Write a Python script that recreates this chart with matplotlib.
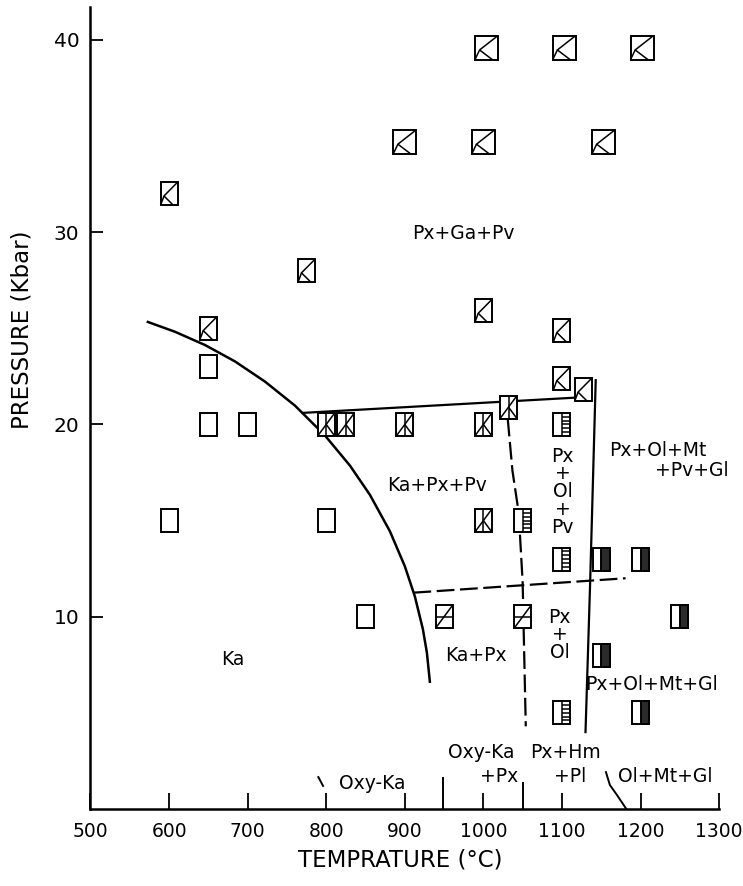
import matplotlib
matplotlib.use('Agg')
import matplotlib.pyplot as plt
from matplotlib.patches import Rectangle
from matplotlib.transforms import ScaledTranslation

# Experimental runs (temperature in C, pressure in kbar), grouped by symbol
empty_T = [650, 650, 700, 600, 800, 850]
empty_P = [23, 20, 20, 15, 15, 10]

k_T = [600, 650, 775, 900, 1000, 1153, 1004, 1103, 1202, 1000, 1100, 1100, 1127]
k_P = [32, 25, 28, 34.7, 34.7, 34.7, 39.6, 39.6, 39.6, 25.9, 24.9, 22.4, 21.8]

cross_T = [800, 825, 900, 1000, 1032, 1000]
cross_P = [20, 20, 20, 20, 20.9, 15]

slash_T = [950, 1050]
slash_P = [10, 10]

stripe_T = [1100, 1050, 1100, 1100]
stripe_P = [20, 15, 13, 5]

dark_T = [1150, 1200, 1250, 1150, 1200]
dark_P = [13, 13, 10, 8, 5]

# Phase boundaries
ka_T = [573, 607.5, 645.7, 683.8, 722, 760.2, 798.3, 830.2, 855.6, 881,
        900.1, 912.8, 923, 928.1, 931.9]
ka_P = [25.33, 24.82, 24.13, 23.28, 22.23, 20.98, 19.43, 17.86, 16.34, 14.45,
        12.62, 11.06, 9.36, 8.14, 6.62]
top_T = [770, 1120]
top_P = [20.6, 21.4]
right_T = [1143, 1136, 1130]
right_P = [22.3, 11.9, 4.0]
dash_v_T = [1031, 1037, 1045, 1050, 1052, 1054]
dash_v_P = [20.3, 17.6, 15.4, 11.8, 8.0, 4.3]
dash_h_T = [911, 1181]
dash_h_P = [11.25, 12.0]

# boundary marks along the 1 atm line
low_slash_T = [790, 796]
low_slash_P = [1.66, 1.2]
low_950_T = [948, 948]
low_950_P = [1.6, 0]
low_1050_T = [1050, 1050]
low_1050_P = [1.35, 0]
low_curve_T = [1156, 1161, 1170, 1182]
low_curve_P = [1.92, 1.25, 0.73, 0.0]

fig = plt.figure(figsize=(7.43, 8.86), dpi=100)
ax = fig.add_axes([0.1218, 0.0869, 0.846, 0.905])
ax.set_xlim(500, 1300)
ax.set_ylim(0, 41.7)
fig.canvas.draw()


def draw_marker(T, P, kind, w=0.17, h=0.23):
    trans = fig.dpi_scale_trans + ScaledTranslation(T, P, ax.transData)
    lw = 1.4
    ax.add_patch(Rectangle((-w / 2, -h / 2), w, h, facecolor='white',
                           edgecolor='black', lw=lw, transform=trans, zorder=4))

    def seg(pts):
        ax.plot([p[0] * w for p in pts], [p[1] * h for p in pts], color='black',
                lw=1.1, transform=trans, zorder=5, solid_capstyle='butt')

    if kind == 'k':
        seg([(0.5, 0.5), (-0.3, -0.1), (0.25, -0.5)])
        seg([(-0.3, -0.1), (-0.5, -0.5)])
    elif kind == 'cross':
        seg([(0, 0.5), (0, -0.5)])
        seg([(0.5, 0.5), (-0.5, -0.5)])
        seg([(0, 0), (0.5, -0.5)])
    elif kind == 'slash':
        seg([(-0.5, 0), (0.5, 0)])
        seg([(0.5, 0.5), (-0.5, -0.5)])
    elif kind == 'stripe':
        seg([(0, 0.5), (0, -0.5)])
        for yy in [-0.33, -0.17, 0.0, 0.17, 0.33]:
            seg([(0, yy), (0.5, yy)])
    elif kind == 'dark':
        ax.add_patch(Rectangle((0, -h / 2), w / 2, h, facecolor='#2b2b2b',
                               edgecolor='black', lw=lw, transform=trans, zorder=5))


for T, P in zip(empty_T, empty_P):
    draw_marker(T, P, 'empty')
for T, P in zip(k_T, k_P):
    if P > 34:
        draw_marker(T, P, 'k', w=0.23, h=0.24)
    else:
        draw_marker(T, P, 'k')
for T, P in zip(cross_T, cross_P):
    draw_marker(T, P, 'cross')
for T, P in zip(slash_T, slash_P):
    draw_marker(T, P, 'slash')
for T, P in zip(stripe_T, stripe_P):
    draw_marker(T, P, 'stripe')
for T, P in zip(dark_T, dark_P):
    draw_marker(T, P, 'dark')

# boundaries
ax.plot(ka_T, ka_P, color='black', lw=1.8, solid_joinstyle='round')
ax.plot(top_T, top_P, color='black', lw=1.6)
ax.plot(right_T, right_P, color='black', lw=1.6)
ax.plot(dash_v_T, dash_v_P, color='black', lw=1.6, dashes=(8, 2.5))
ax.plot(dash_h_T, dash_h_P, color='black', lw=1.6, dashes=(8, 2.5))
for tt, pp in [(low_slash_T, low_slash_P), (low_950_T, low_950_P),
               (low_1050_T, low_1050_P), (low_curve_T, low_curve_P)]:
    ax.plot(tt, pp, color='black', lw=1.4, clip_on=False)

# field labels
fs = 13.5
ax.text(974, 29.95, 'Px+Ga+Pv', fontsize=fs, ha='center', va='center')
ax.text(941, 16.8, 'Ka+Px+Pv', fontsize=fs, ha='center', va='center')
ax.text(681, 7.75, 'Ka', fontsize=fs, ha='center', va='center')
ax.text(991, 8.0, 'Ka+Px', fontsize=fs, ha='center', va='center')
ax.text(1101, 16.5, 'Px\n+\nOl\n+\nPv', fontsize=fs, ha='center', va='center',
        linespacing=0.92)
ax.text(1097, 9.05, 'Px\n+\nOl', fontsize=fs, ha='center', va='center',
        linespacing=0.92)
ax.text(1222, 18.67, 'Px+Ol+Mt', fontsize=fs, ha='center', va='center')
ax.text(1265, 17.6, '+Pv+Gl', fontsize=fs, ha='center', va='center')
ax.text(1214, 6.5, 'Px+Ol+Mt+Gl', fontsize=fs, ha='center', va='center')
ax.text(858, 1.35, 'Oxy-Ka', fontsize=fs, ha='center', va='center')
ax.text(997, 2.95, 'Oxy-Ka', fontsize=fs, ha='center', va='center')
ax.text(1020, 1.7, '+Px', fontsize=fs, ha='center', va='center')
ax.text(1105, 2.95, 'Px+Hm', fontsize=fs, ha='center', va='center')
ax.text(1111, 1.7, '+Pl', fontsize=fs, ha='center', va='center')
ax.text(1232, 1.7, 'Ol+Mt+Gl', fontsize=fs, ha='center', va='center')

# axes styling
for s in ['top', 'right']:
    ax.spines[s].set_visible(False)
for s in ['left', 'bottom']:
    ax.spines[s].set_linewidth(1.8)
ax.set_xticks(range(500, 1301, 100))
ax.set_yticks([10, 20, 30, 40])
ax.tick_params(axis='x', direction='in', length=11.5, width=1.3, labelsize=13.5, pad=9)
ax.tick_params(axis='y', direction='in', length=9.5, width=1.3, labelsize=14.5, pad=8)

fig.text(400 / 743, 1 - 860 / 886, 'TEMPRATURE (°C)', fontsize=16.5,
         ha='center', va='center')
fig.text(22 / 743, 1 - 330 / 886, 'PRESSURE (Kbar)', fontsize=16.5,
         ha='center', va='center', rotation=90)

fig.savefig('out.png', dpi=100)
